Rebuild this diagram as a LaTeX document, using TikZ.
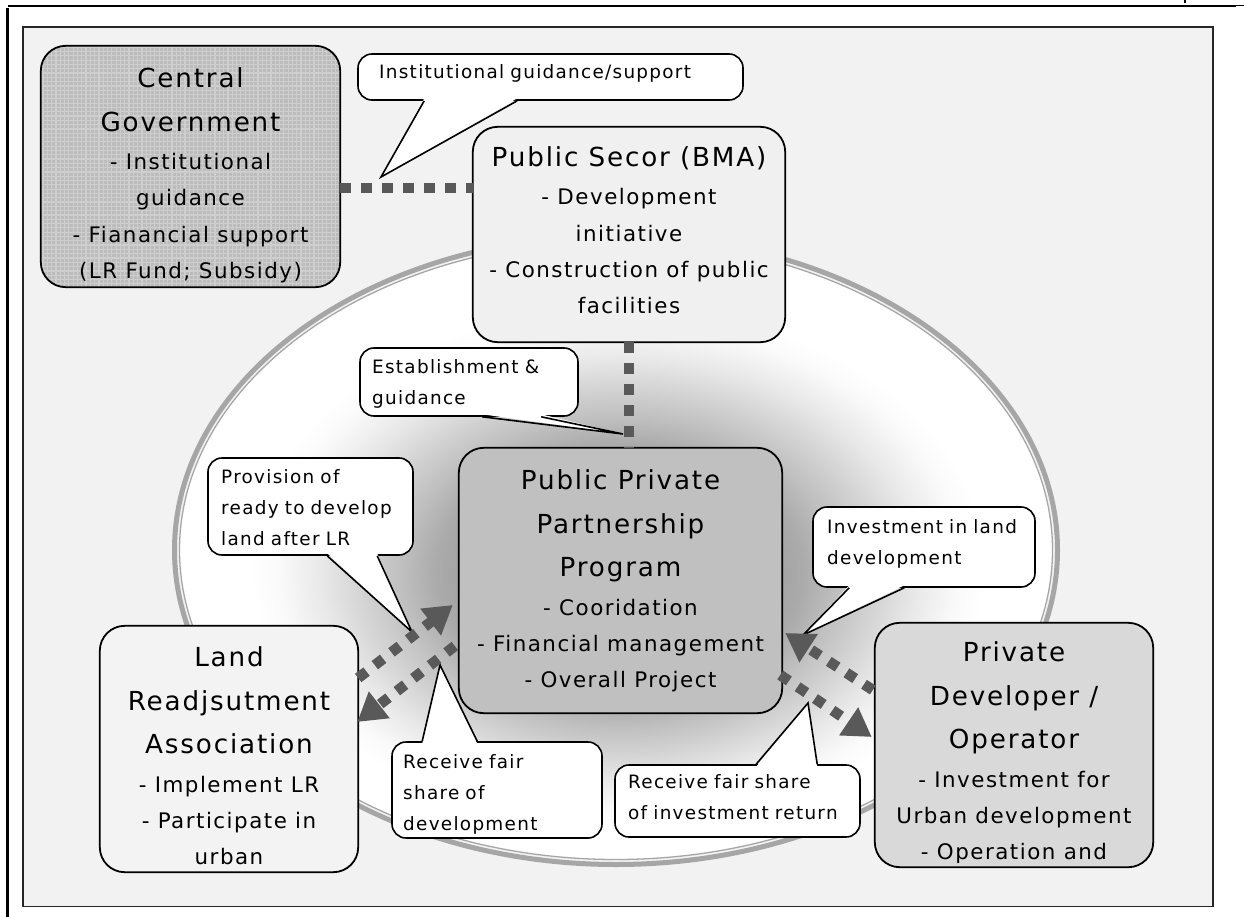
\documentclass[tikz,border=0pt]{standalone}
\usepackage{fontspec}
\setmainfont{DejaVu Sans}[LetterSpace=7]
\usetikzlibrary{arrows.meta}
\setlength\parskip{0pt}

\definecolor{paper}{HTML}{F2F2F2}
\definecolor{pubfill}{HTML}{F0F0F0}
\definecolor{landfill}{HTML}{F3F3F3}
\definecolor{dotgray}{HTML}{595959}
\definecolor{ringgray}{HTML}{A6A6A6}
\definecolor{pppfill}{HTML}{C0C0C0}
\definecolor{devfill}{HTML}{D9D9D9}
\definecolor{govbase}{HTML}{BCBCBC}
\definecolor{govgrid}{HTML}{CECECE}

% grey halo inside the partnership ellipse (25bp = rim of the ellipse)
\pgfdeclareradialshading{halo}{\pgfpoint{0.25bp}{-2.4bp}}{%
  rgb(0bp)=(0.58,0.58,0.58); rgb(9bp)=(0.64,0.64,0.64); rgb(10.5bp)=(0.67,0.67,0.67);
  rgb(12.5bp)=(0.75,0.75,0.75); rgb(14.5bp)=(0.82,0.82,0.82); rgb(17bp)=(0.91,0.91,0.91);
  rgb(19.5bp)=(0.98,0.98,0.98); rgb(21bp)=(1,1,1); rgb(50bp)=(1,1,1)}

\newcommand\ttlfont{\fontsize{26.2}{43.5}\selectfont\spaceskip=0pt\xspaceskip=0pt\relax}
\newcommand\bdyfont{\fontsize{21.4}{36.3}\selectfont\spaceskip=0pt\xspaceskip=0pt\relax}
\newcommand\notefont{\fontsize{18.4}{31}\selectfont\spaceskip=0pt\xspaceskip=0pt\relax}

\begin{document}
\begin{tikzpicture}[x=1pt,y=-1pt,
  box/.style={inner sep=0pt, rounded corners=25pt},
  boxline/.style={draw=black, line width=1.8pt, rounded corners=25pt},
  boxtext/.style={anchor=north, inner sep=0pt, text width=#1},
  bubble/.style={draw=black, line width=1.6pt, fill=white, rounded corners=14pt, inner sep=0pt},
  notetext/.style={anchor=north west, inner sep=0pt, align=left, text width=#1, font=\notefont},
  tailline/.style={draw=black, line width=1.6pt, line join=miter},
  dotline/.style={draw=dotgray, line width=10.5pt, dash pattern=on 10.5pt off 10.5pt},
  dotarrow/.style={dotline, -{Triangle[length=28pt,width=32pt]}},
]
\useasboundingbox (0,0) rectangle (1244,917);

% page rules
\draw[line width=2.6pt] (8,6) -- (1236,6);
\draw[line width=1pt] (1236,6) -- (1244,6);
\draw[line width=2.6pt] (7.7,8) -- (7.7,917);
\draw[line width=1.5pt] (1185,0) -- (1185,3);

% panel
\draw[draw=black!85, line width=1.6pt, fill=paper] (22.7,27) rectangle (1213,906.5);

% partnership ellipse
\shade[shading=halo] (616,550) ellipse [x radius=437, y radius=310];
\draw[ringgray, line width=5pt] (616,550) ellipse [x radius=441.5, y radius=314.5];
\draw[ringgray, line width=1.3pt] (616,550) ellipse [x radius=436.5, y radius=309.5];

% ---------- boxes ----------
% Central Government (grey fill with a fine light grid)
\node[box, fill=govbase, minimum width=299pt, minimum height=241pt] (gov) at (190.5,166.5) {};
\begin{scope}
  \clip[rounded corners=25pt] (gov.north west) rectangle (gov.south east);
  \draw[govgrid, line width=1.2pt, step=4.3pt] (gov.south west) grid (gov.north east);
\end{scope}
\begin{scope}
  \clip[rounded corners=21pt] ([xshift=4.5pt,yshift=-4.5pt]gov.north west) rectangle ([xshift=-4.5pt,yshift=4.5pt]gov.south east);
  \node[boxtext=290pt] (govtext) at (190.5,66.5)
    {\centering\ttlfont\rule{0pt}{21pt}Central\par Government\par
     \bdyfont\vspace{2pt}- Institutional\par guidance\par - Fianancial support\par (LR Fund; Subsidy)\par};
\end{scope}
\draw[boxline] (gov.north west) rectangle (gov.south east);

% Public sector
\node[box, fill=pubfill, minimum width=312pt, minimum height=215pt] (pub) at (629,234.5) {};
\begin{scope}
  \clip[rounded corners=21pt] ([xshift=4.5pt,yshift=-4.5pt]pub.north west) rectangle ([xshift=-4.5pt,yshift=4.5pt]pub.south east);
  \node[boxtext=302pt] (pubtext) at (629,145.5)
    {\centering\ttlfont\rule{0pt}{21pt}Public Secor (BMA)\par
     \bdyfont\vspace{2pt}- Development\par initiative\par - Construction of public\par facilities\par};
\end{scope}
\draw[boxline] (pub.north west) rectangle (pub.south east);

% Public Private Partnership Program
\node[box, fill=pppfill, minimum width=323pt, minimum height=265pt] (ppp) at (620.5,580.5) {};
\begin{scope}
  \clip[rounded corners=21pt] ([xshift=4.5pt,yshift=-4.5pt]ppp.north west) rectangle ([xshift=-4.5pt,yshift=4.5pt]ppp.south east);
  \node[boxtext=313pt] (ppptext) at (620.5,468.5)
    {\centering\ttlfont\rule{0pt}{21pt}Public Private\par Partnership\par Program\par
     \bdyfont\vspace{2pt}- Cooridation\par - Financial management\par - Overall Project\par};
\end{scope}
\draw[boxline] (ppp.north west) rectangle (ppp.south east);

% Land Readjustment Association
\node[box, fill=landfill, minimum width=258pt, minimum height=246pt] (land) at (229,749) {};
\begin{scope}
  \clip[rounded corners=21pt] ([xshift=4.5pt,yshift=-4.5pt]land.north west) rectangle ([xshift=-4.5pt,yshift=4.5pt]land.south east);
  \node[boxtext=248pt] (landtext) at (229,645.5)
    {\centering\ttlfont\rule{0pt}{21pt}Land\par Readjsutment\par Association\par
     \bdyfont\vspace{2pt}- Implement LR\par - Participate in\par urban\par};
\end{scope}
\draw[boxline] (land.north west) rectangle (land.south east);

% Private developer
\node[box, fill=devfill, minimum width=278pt, minimum height=244pt] (dev) at (1014,745) {};
\begin{scope}
  \clip[rounded corners=21pt] ([xshift=4.5pt,yshift=-4.5pt]dev.north west) rectangle ([xshift=-4.5pt,yshift=4.5pt]dev.south east);
  \node[boxtext=268pt] (devtext) at (1014,640.5)
    {\centering\ttlfont\rule{0pt}{21pt}Private\par Developer /\par Operator\par
     \bdyfont\vspace{2pt}- Investment for\par Urban development\par - Operation and\par};
\end{scope}
\draw[boxline] (dev.north west) rectangle (dev.south east);

% ---------- dotted links between the public bodies ----------
\draw[dotline] ([yshift=-21.5pt]gov.east) -- ([yshift=46.5pt]pub.west);
\draw[dotline] (pub.south) -- ([xshift=8.5pt]ppp.north);

% ---------- callouts ----------
% institutional guidance
\node[bubble, minimum width=385pt, minimum height=46pt] (instnote) at (550.5,77) {};
\coordinate (insttip) at (381,177);
\fill[white] ([xshift=67pt,yshift=2.5pt]instnote.south west) -- (insttip) -- ([xshift=160pt,yshift=2.5pt]instnote.south west) -- cycle;
\draw[tailline] ([xshift=67pt]instnote.south west) -- (insttip) -- ([xshift=160pt]instnote.south west);
\node[notetext=370pt] (insttext) at (379,63.7) {\rule{0pt}{15pt}Institutional guidance/support};

% establishment
\node[bubble, minimum width=218pt, minimum height=68pt] (estnote) at (469,382) {};
\coordinate (esttip) at (623,434);
\fill[white] ([xshift=123pt,yshift=2.5pt]estnote.south west) -- (esttip) -- ([xshift=182pt,yshift=2.5pt]estnote.south west) -- cycle;
\draw[tailline] ([xshift=123pt]estnote.south west) -- (esttip) -- ([xshift=182pt]estnote.south west);
\node[notetext=200pt] (esttext) at (372,358.4) {\rule{0pt}{15pt}Establishment \&\par guidance};

% provision of land
\node[bubble, minimum width=205pt, minimum height=97pt] (provnote) at (310.5,506.5) {};
\coordinate (provtip) at (412,632);
\fill[white] ([xshift=120pt,yshift=2.5pt]provnote.south west) -- (provtip) -- ([xshift=170pt,yshift=2.5pt]provnote.south west) -- cycle;
\draw[tailline] ([xshift=120pt]provnote.south west) -- (provtip) -- ([xshift=170pt]provnote.south west);
\node[notetext=190pt] (provtext) at (221,468.7) {\rule{0pt}{15pt}Provision of\par ready to develop\par land after LR};

% fair share of development
\node[bubble, minimum width=210pt, minimum height=96pt] (recl) at (497,790) {};
\coordinate (recltip) at (440,665);
\fill[white] ([xshift=31pt,yshift=-2.5pt]recl.north west) -- (recltip) -- ([xshift=86pt,yshift=-2.5pt]recl.north west) -- cycle;
\draw[tailline] ([xshift=31pt]recl.north west) -- (recltip) -- ([xshift=86pt]recl.north west);
\node[notetext=195pt] (recltext) at (403,753.7) {\rule{0pt}{15pt}Receive fair\par share of\par development};

% fair share of investment return
\node[bubble, minimum width=245pt, minimum height=72pt] (recr) at (737.5,801) {};
\coordinate (recrtip) at (808,703);
\fill[white] ([xshift=142pt,yshift=-2.5pt]recr.north west) -- (recrtip) -- ([xshift=203pt,yshift=-2.5pt]recr.north west) -- cycle;
\draw[tailline] ([xshift=142pt]recr.north west) -- (recrtip) -- ([xshift=203pt]recr.north west);
\node[notetext=230pt] (recrtext) at (628,773.7) {\rule{0pt}{15pt}Receive fair share\par of investment return};

% investment in land development
\node[bubble, minimum width=222pt, minimum height=80pt] (invnote) at (924,547) {};
\coordinate (invtip) at (803,635);
\fill[white] ([xshift=37pt,yshift=2.5pt]invnote.south west) -- (invtip) -- ([xshift=92pt,yshift=2.5pt]invnote.south west) -- cycle;
\draw[tailline] ([xshift=37pt]invnote.south west) -- (invtip) -- ([xshift=92pt]invnote.south west);
\node[notetext=205pt] (invtext) at (827,518.7) {\rule{0pt}{15pt}Investment in land\par development};

% ---------- exchange arrows ----------
\draw[dotarrow] ([yshift=71pt]land.east) -- ([xshift=-6pt,yshift=-24.5pt]ppp.west);
\draw[dotarrow] ([xshift=-4pt,yshift=-65.5pt]ppp.west) -- ([xshift=-1pt,yshift=27pt]land.east);
\draw[dotarrow] ([xshift=-2pt,yshift=55pt]dev.west) -- ([xshift=3pt,yshift=-52.5pt]ppp.east);
\draw[dotarrow] ([xshift=-2pt,yshift=-94.5pt]ppp.east) -- ([xshift=-3pt,yshift=8pt]dev.west);
\end{tikzpicture}
\end{document}
